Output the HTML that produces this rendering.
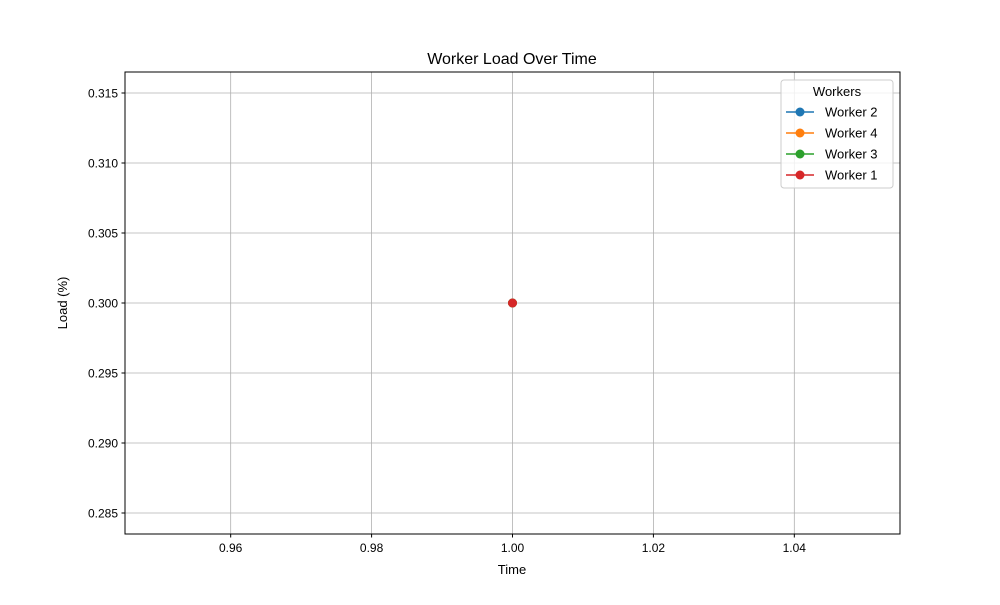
<!DOCTYPE html>
<html><head><meta charset="utf-8"><style>
body{margin:0;background:#fff;font-family:"Liberation Sans","DejaVu Sans",sans-serif}
</style></head><body>
<svg id="chart" width="1000" height="600" xmlns="http://www.w3.org/2000/svg" font-family="Liberation Sans, DejaVu Sans, sans-serif">
<rect width="1000" height="600" fill="#fff"/>
<g id="grid"></g>
<g id="marks"></g>
<rect x="125" y="72" width="775" height="462" fill="none" stroke="#000" stroke-width="1"/>
<g id="ticks"></g>
<text x="512" y="64" text-anchor="middle" font-size="16">Worker Load Over Time</text>
<text x="512" y="574" text-anchor="middle" font-size="13">Time</text>
<text x="67" y="303" text-anchor="middle" font-size="13" transform="rotate(-90 67 303)">Load (%)</text>
<g id="legend"></g>
</svg>
<script>
const seriesNames = ["Worker 2","Worker 4","Worker 3","Worker 1"];
const seriesColors = ["#1f77b4","#ff7f0e","#2ca02c","#d62728"];
const timeValues = [[1.0],[1.0],[1.0],[1.0]];
const loadValues = [[0.3],[0.3],[0.3],[0.3]];
const xTicks = [0.96,0.98,1.00,1.02,1.04];
const yTicks = [0.285,0.290,0.295,0.300,0.305,0.310,0.315];

const NS="http://www.w3.org/2000/svg";
const L=125,R=900,T=72,B=534;
const xMin=0.945,xMax=1.055,yMin=0.2835,yMax=0.3165;
const xs=v=>L+(v-xMin)/(xMax-xMin)*(R-L);
const ys=v=>B-(v-yMin)/(yMax-yMin)*(B-T);
function mk(tag,attrs,parent){const e=document.createElementNS(NS,tag);for(const k in attrs)e.setAttribute(k,attrs[k]);parent.appendChild(e);return e;}
const grid=document.getElementById('grid'),ticks=document.getElementById('ticks'),marks=document.getElementById('marks'),leg=document.getElementById('legend');
xTicks.forEach(v=>{const x=xs(v);
 let g=mk('line',{x1:x,x2:x,y1:T,y2:B,stroke:'#b0b0b0','stroke-width':0.8},grid);
 
 
 mk('line',{x1:x,x2:x,y1:B,y2:B+3.5,stroke:'#000'},ticks);
 let t=mk('text',{x:x,y:B+18,'text-anchor':'middle','font-size':12},ticks);t.textContent=v.toFixed(2);
 
 
});
yTicks.forEach(v=>{const y=ys(v);
 let g=mk('line',{x1:L,x2:R,y1:y,y2:y,stroke:'#b0b0b0','stroke-width':0.8},grid);
 
 
 mk('line',{x1:L-3.5,x2:L,y1:y,y2:y,stroke:'#000'},ticks);
 let t=mk('text',{x:L-7,y:y+4.5,'text-anchor':'end','font-size':12},ticks);t.textContent=v.toFixed(3);
 
 
});
seriesNames.forEach((n,i)=>{
 const pts=timeValues[i].map((t,j)=>xs(t)+','+ys(loadValues[i][j])).join(' ');
 let pl=mk('polyline',{points:pts,fill:'none',stroke:seriesColors[i],'stroke-width':1.5},marks);
 
 
 timeValues[i].forEach((t,j)=>{
  let c=mk('circle',{cx:xs(t),cy:ys(loadValues[i][j]),r:4.5,fill:seriesColors[i]},marks);
  
  
 });
});
let box=mk('rect',{x:781,y:80,width:112,height:108,rx:3,fill:'#fff','fill-opacity':0.8,stroke:'#ccc'},leg);


let lt=mk('text',{x:837,y:96,'text-anchor':'middle','font-size':13},leg);lt.textContent='Workers';


seriesNames.forEach((n,i)=>{const y=112+i*21;
 let g=mk('g',{},leg);
 
 
 mk('line',{x1:786,x2:814,y1:y,y2:y,stroke:seriesColors[i],'stroke-width':1.5},g);
 mk('circle',{cx:800,cy:y,r:4.5,fill:seriesColors[i]},g);
 let t=mk('text',{x:825,y:y+4.5,'font-size':13},g);t.textContent=n;
});
</script>
</body></html>
